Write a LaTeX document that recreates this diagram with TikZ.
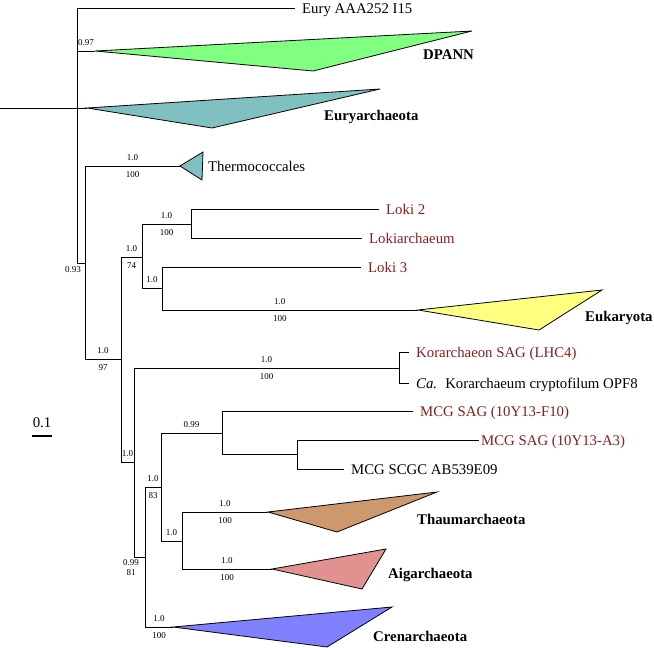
\documentclass[tikz,border=0pt]{standalone}
\usepackage{fontspec}
\setmainfont{Liberation Serif}
\definecolor{dpannc}{RGB}{128,255,128}
\definecolor{euryc}{RGB}{128,192,192}
\definecolor{eukc}{RGB}{255,255,128}
\definecolor{thaumc}{RGB}{205,152,110}
\definecolor{aigc}{RGB}{226,145,145}
\definecolor{crenc}{RGB}{128,128,255}
\definecolor{sagred}{RGB}{140,28,28}
\begin{document}
\begin{tikzpicture}[
  x=1pt, y=-1pt,
  e/.style={line width=0.8pt},
  tri/.style={draw, line width=0.8pt},
  leaf/.style={anchor=west, inner xsep=7pt, inner ysep=0pt, text height=11pt, text depth=0pt, font=\fontsize{14.8}{17}\selectfont},
  sag/.style={leaf, text=sagred},
  clade/.style={anchor=west, inner sep=0pt, text height=11pt, text depth=0pt, font=\fontsize{14.8}{17}\selectfont\bfseries},
  bs/.style={inner sep=1.5pt, font=\fontsize{9}{10}\selectfont}
]
\useasboundingbox (0,0) rectangle (654,648);

\coordinate (base) at (0,108);
\coordinate (root) at (77,108);
\coordinate (dpann) at (95,51);
\coordinate (euryA) at (87,108);
\coordinate (n093) at (85,263);
\coordinate (thermo) at (180,166);
\coordinate (n097) at (121,359);
\coordinate (n074) at (142,257);
\coordinate (nloki) at (191,224);
\coordinate (n10b) at (162,288);
\coordinate (euk) at (418,310);
\coordinate (n10a) at (134,462);
\coordinate (nkor) at (399,368);
\coordinate (n099) at (145,557);
\coordinate (n083) at (161,487);
\coordinate (cren) at (173,627);
\coordinate (nmcg) at (222,433);
\coordinate (na3) at (297,454);
\coordinate (n10c) at (182,541);
\coordinate (thaum) at (268,512);
\coordinate (aig) at (272,569);

\node[leaf] (aaa) at (295,8) {Eury AAA252 I15};
\node[leaf] (thermoL) at (201,166) {Thermococcales};
\node[sag] (loki2) at (379,209) {Loki 2};
\node[sag] (lokiarch) at (362,238) {Lokiarchaeum};
\node[sag] (loki3) at (361,267) {Loki 3};
\node[sag] (korsag) at (409,352) {Korarchaeon SAG (LHC4)};
\node[leaf] (korcry) at (409,383) {\textit{Ca.}\hspace{0.55em}Korarchaeum cryptofilum OPF8};
\node[sag] (mcgf10) at (413,411) {MCG SAG (10Y13-F10)};
\node[sag, inner xsep=2pt] (mcga3) at (479,440) {MCG SAG (10Y13-A3)};
\node[leaf] (mcgab) at (344,469) {MCG SCGC AB539E09};

\node[clade] (dpannL) at (423,54) {DPANN};
\node[clade] (euryL) at (324,115) {Euryarchaeota};
\node[clade] (eukL) at (585,316) {Eukaryota};
\node[clade] (thaumL) at (417,519) {Thaumarchaeota};
\node[clade] (aigL) at (388,573) {Aigarchaeota};
\node[clade] (crenL) at (373,636) {Crenarchaeota};

\draw[e] (base) -- (root);
\draw[e] (root) |- (aaa);
\draw[e] (root) |- (dpann) node[bs, pos=0.75, above=3pt] {0.97};
\draw[e] (root) |- (euryA);
\draw[e] (root) |- (n093);
\node[bs] at (73,270) {0.93};
\draw[e] (n093) |- (thermo) node[bs, pos=0.75, above=3pt] {1.0} node[bs, pos=0.75, below=4pt] {100};
\draw[e] (n093) |- (n097) node[bs, pos=0.75, above=3pt] {1.0} node[bs, pos=0.75, below=4pt] {97};
\draw[e] (n097) |- (n074) node[bs, pos=0.75, above=3pt] {1.0} node[bs, pos=0.75, below=4pt] {74};
\draw[e] (n097) |- (n10a) node[bs, pos=0.75, above=3pt] {1.0};
\draw[e] (n074) |- (nloki) node[bs, pos=0.75, above=3pt] {1.0} node[bs, pos=0.75, below=4pt] {100};
\draw[e] (n074) |- (n10b) node[bs, pos=0.75, above=3pt] {1.0};
\draw[e] (nloki) |- (loki2);
\draw[e] (nloki) |- (lokiarch);
\draw[e] (n10b) |- (loki3);
\draw[e] (n10b) |- (euk) node[bs, pos=0.73, above=3pt] {1.0} node[bs, pos=0.73, below=4pt] {100};
\draw[e] (n10a) |- (nkor) node[bs, pos=0.75, above=3pt] {1.0} node[bs, pos=0.75, below=4pt] {100};
\draw[e] (n10a) |- (n099);
\node[bs] at (131,563) {0.99};
\node[bs] at (131,573) {81};
\draw[e] (nkor) |- (korsag);
\draw[e] (nkor) |- (korcry);
\draw[e] (n099) |- (n083) node[bs, pos=0.75, above=3pt] {1.0} node[bs, pos=0.75, below=4pt] {83};
\draw[e] (n099) |- (cren) node[bs, pos=0.75, above=3pt] {1.0} node[bs, pos=0.75, below=4pt] {100};
\draw[e] (n083) |- (nmcg) node[bs, pos=0.75, above=3pt] {0.99};
\draw[e] (n083) |- (n10c) node[bs, pos=0.75, above=3pt] {1.0};
\draw[e] (nmcg) |- (mcgf10);
\draw[e] (nmcg) |- (na3);
\draw[e] (na3) |- (mcga3);
\draw[e] (na3) |- (mcgab);
\draw[e] (n10c) |- (thaum) node[bs, pos=0.75, above=3pt] {1.0} node[bs, pos=0.75, below=4pt] {100};
\draw[e] (n10c) |- (aig) node[bs, pos=0.75, above=3pt] {1.0} node[bs, pos=0.75, below=4pt] {100};

\filldraw[tri, fill=dpannc] (dpann) -- (472,31) -- (313,71) -- cycle;
\filldraw[tri, fill=euryc] (euryA) -- (380,89) -- (212,128) -- cycle;
\filldraw[tri, fill=euryc] (thermo) -- (203,152) -- (202,180) -- cycle;
\filldraw[tri, fill=eukc] (euk) -- (602,290) -- (539,330) -- cycle;
\filldraw[tri, fill=thaumc] (thaum) -- (437,492) -- (337,532) -- cycle;
\filldraw[tri, fill=aigc] (aig) -- (386,549) -- (362,589) -- cycle;
\filldraw[tri, fill=crenc] (cren) -- (392,607) -- (327,647) -- cycle;

\node[font=\fontsize{14.8}{17}\selectfont] (scale) at (42,423) {0.1};
\coordinate (sbl) at (32,436);
\coordinate (sbr) at (52,436);
\draw[line width=1.2pt] (sbl) -- (sbr);
\end{tikzpicture}
\end{document}
